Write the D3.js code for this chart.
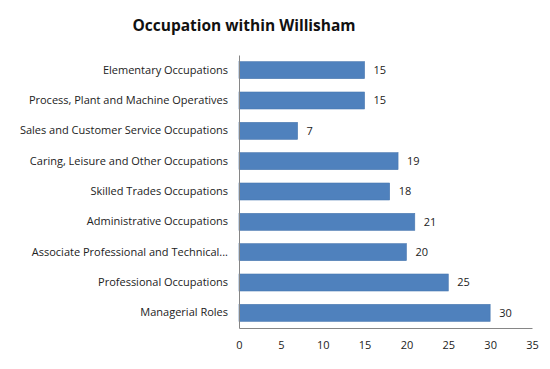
<!DOCTYPE html>
<html>
<head>
<meta charset="utf-8">
<script src="https://cdn.jsdelivr.net/npm/d3@7"></script>
<style>
  body { margin: 0; background: #fff; }
  text { font-family: "Open Sans", "Liberation Sans", sans-serif; }
</style>
</head>
<body>
<script>
const titleText = "Occupation within Willisham";
const categories = [
    "Elementary Occupations",
    "Process, Plant and Machine Operatives",
    "Sales and Customer Service Occupations",
    "Caring, Leisure and Other Occupations",
    "Skilled Trades Occupations",
    "Administrative Occupations",
    "Associate Professional and Technical...",
    "Professional Occupations",
    "Managerial Roles"
];
const values = [15, 15, 7, 19, 18, 21, 20, 25, 30];
const xTicks = [0, 5, 10, 15, 20, 25, 30, 35];

const svgWidth = 550;
const svgHeight = 369;
const margin = {top: 55, left: 239, right: 18, bottom: 41};

const svg = d3.select("body")
    .append("svg").attr("width", svgWidth).attr("height", svgHeight);

const x = d3.scaleLinear()
    .domain([0, 35])
    .range([margin.left, svgWidth - margin.right]);

const y = d3.scaleBand()
    .domain(categories)
    .range([margin.top, svgHeight - margin.bottom])
    .paddingInner(0.44)
    .paddingOuter(0.22);

svg.append("text")
    .attr("x", 244)
    .attr("y", 31)
    .attr("text-anchor", "middle")
    .attr("font-size", 15.5)
    .attr("font-weight", "bold")
    .attr("fill", "#111")
    .text(titleText);

// bars
svg.selectAll("rect.bar")
    .data(values)
    .join("rect")
    .attr("class", "bar")
    .attr("x", x(0))
    .attr("y", (d, i) => y(categories[i]))
    .attr("width", d => x(d) - x(0))
    .attr("height", y.bandwidth())
    .attr("fill", "#4f81bd")
    .attr("stroke", "#4a78b0")
    .attr("stroke-width", 0.6);

// value labels
svg.selectAll("text.val")
    .data(values)
    .join("text")
    .attr("class", "val")
    .attr("x", d => x(d) + 9)
    .attr("y", (d, i) => y(categories[i]) + y.bandwidth() / 2)
    .attr("dy", "0.35em")
    .attr("font-size", 11)
    .attr("fill", "#222")
    .text(d => d);

// y axis
const yAxis = svg.append("g")
    .attr("transform", `translate(${x(0)},0)`)
    .call(d3.axisLeft(y).tickSize(0).tickPadding(11));
yAxis.select(".domain").attr("stroke", "#868686");
yAxis.selectAll("text").attr("font-size", 11).attr("fill", "#222")
    .style("font-family", '"Open Sans", "Liberation Sans", sans-serif');

// x axis
const xAxis = svg.append("g")
    .attr("transform", `translate(0,${svgHeight - margin.bottom})`)
    .call(d3.axisBottom(x).tickValues(xTicks).tickSize(0).tickPadding(13));
xAxis.select(".domain").attr("stroke", "#868686");
xAxis.selectAll("text").attr("font-size", 11).attr("fill", "#222")
    .style("font-family", '"Open Sans", "Liberation Sans", sans-serif');
</script>
</body>
</html>
